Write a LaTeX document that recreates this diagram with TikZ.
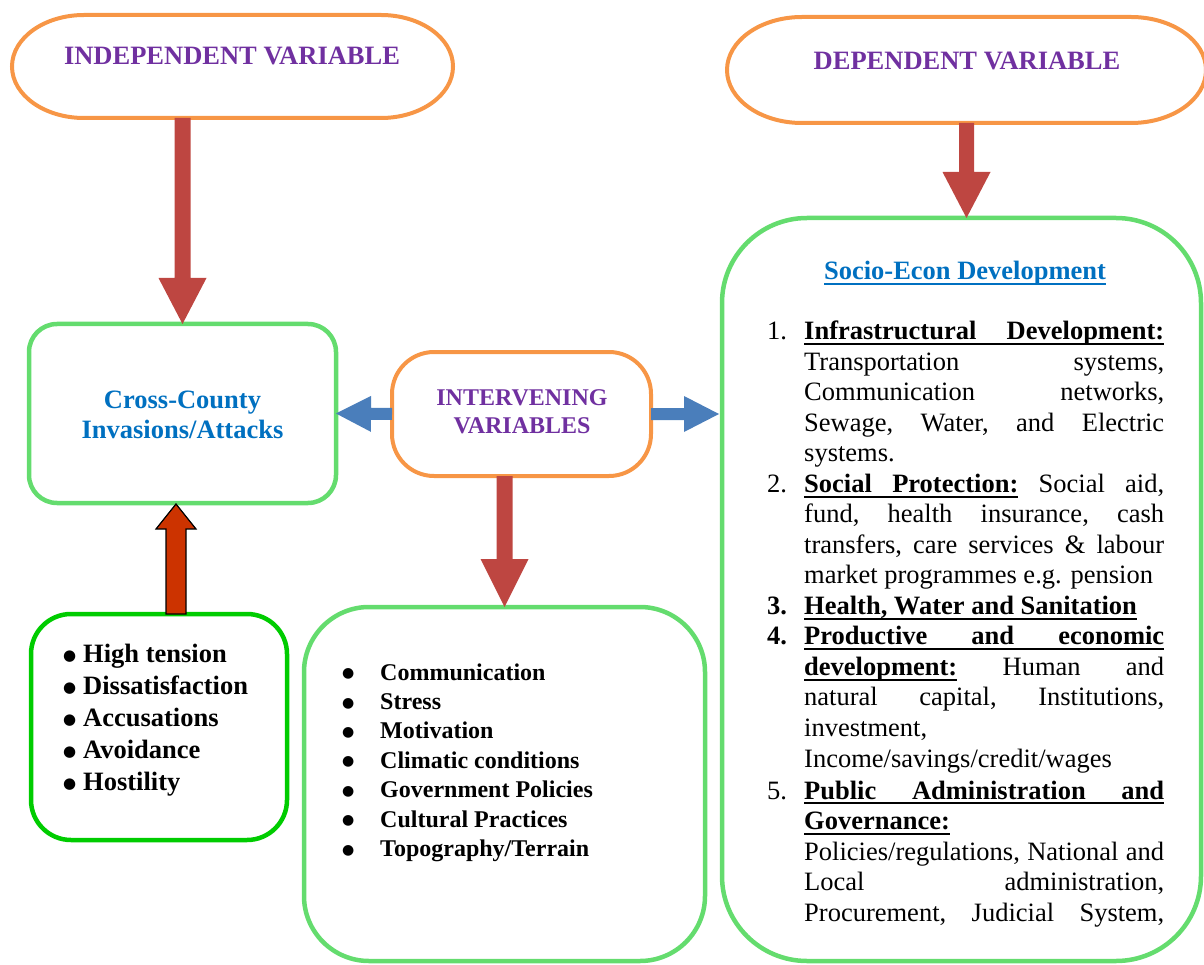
\documentclass[tikz,border=0pt]{standalone}
\usepackage{fontspec}
\setmainfont{Liberation Serif}
\newfontfamily\symf{DejaVu Sans}
\usetikzlibrary{calc}
\definecolor{orangeC}{HTML}{F79646}
\definecolor{purpleC}{HTML}{7030A0}
\definecolor{lgreen}{RGB}{100,220,110}
\definecolor{dgreen}{RGB}{0,204,0}
\definecolor{blueT}{HTML}{0070C0}
\definecolor{blueA}{RGB}{74,126,187}
\definecolor{redA}{RGB}{190,70,65}
\definecolor{upred}{HTML}{CC3300}
\newsavebox\ulbox
\newcommand\myul[1]{\sbox\ulbox{#1}\rlap{\rule[-5.2pt]{\wd\ulbox}{1.8pt}}\usebox\ulbox}
\newcommand\ulfill{\leaders\hrule height -3.4pt depth 5.2pt\hfill}
\newcommand\jl[1]{\hbox to 360pt{#1}}
\newcommand\nb[1]{\makebox[37pt][l]{#1}}
\newcommand\bulL{\makebox[20pt][l]{\raisebox{1.8pt}{\symf\fontsize{15}{15}\selectfont ●}}}
\newcommand\bulM{\makebox[38pt][l]{\raisebox{2.3pt}{\symf\fontsize{14}{14}\selectfont ●}}}
\newcommand\bodyfont{\fontsize{26.5}{30.5}\selectfont}
% stadium with elliptical ends: node name, rx, ry
\newcommand\ovalbox[3]{%
  \draw[ovl] ([xshift=#2]#1.north west) -- ([xshift=-#2]#1.north east)
    .. controls ([xshift=-#2+0.552*#2]#1.north east) and ([yshift=0.552*#3]#1.east) .. (#1.east)
    .. controls ([yshift=-0.552*#3]#1.east) and ([xshift=-0.448*#2]#1.south east) .. ([xshift=-#2]#1.south east)
    -- ([xshift=#2]#1.south west)
    .. controls ([xshift=0.448*#2]#1.south west) and ([yshift=-0.552*#3]#1.west) .. (#1.west)
    .. controls ([yshift=0.552*#3]#1.west) and ([xshift=0.448*#2]#1.north west) .. ([xshift=#2]#1.north west)
    -- cycle;}
% block arrow: style, A, B, shaft half width, head half width, head length
\newcommand\blockarrow[6]{%
  \path ($(#3)!#6!(#2)$) coordinate (bah);
  \filldraw[#1] ($(#2)!#4!90:(#3)$) -- ($(bah)!#4!90:(#3)$) -- ($(bah)!#5!90:(#3)$)
    -- (#3) -- ($(bah)!#5!-90:(#3)$) -- ($(bah)!#4!-90:(#3)$) -- ($(#2)!#4!-90:(#3)$) -- cycle;}
\begin{document}
\begin{tikzpicture}[x=1pt,y=-1pt,
  shp/.style={draw=none,inner sep=0,outer sep=0},
  ovl/.style={draw=orangeC,line width=4pt},
  obox/.style={draw=orangeC,line width=4pt,inner sep=0,outer sep=0},
  gbox/.style={draw=lgreen,line width=4.5pt,inner sep=0,outer sep=0},
  dbox/.style={draw=dgreen,line width=4.5pt,inner sep=0,outer sep=0},
  ttl/.style={anchor=base,inner sep=0,text=purpleC,font=\fontsize{26.5}{30}\selectfont\bfseries},
  redarrow/.style={fill=redA,draw=none},
  bluearrow/.style={fill=blueA,draw=none},
  uparrow/.style={fill=upred,draw=black,line width=1.2pt,line join=miter}]
\useasboundingbox (0,0) rectangle (1204,965);

% shapes
\node[shp,minimum width=441,minimum height=103] (indep) at (232.5,66.5) {};
\ovalbox{indep}{72}{51.5}
\node[shp,minimum width=479,minimum height=106] (dep) at (966.5,70) {};
\ovalbox{dep}{75}{53}
\node[gbox,rounded corners=28,minimum width=307,minimum height=179] (cross) at (182.5,413.5) {};
\node[obox,rounded corners=42,minimum width=259,minimum height=124] (inter) at (521.5,414) {};
\node[dbox,rounded corners=40,minimum width=256,minimum height=226] (lbox) at (159,727) {};
\node[gbox,rounded corners=65,minimum width=401,minimum height=354] (mid) at (504.5,784) {};
\node[gbox,rounded corners=85,minimum width=479,minimum height=743] (socio) at (961.5,589.5) {};

% titles
\node[ttl] (indepT) at (232,65) {INDEPENDENT VARIABLE};
\node[ttl] (depT) at (967,70) {DEPENDENT VARIABLE};
\node[anchor=base,inner sep=0,text=purpleC,font=\fontsize{24}{28}\selectfont\bfseries] (interT) at (522,405)
  {\begin{tabular}[t]{@{}c@{}}INTERVENING\\VARIABLES\end{tabular}};
\node[anchor=base,inner sep=0,text=blueT,font=\fontsize{26.5}{30}\selectfont\bfseries] (crossT) at (182.5,408)
  {\begin{tabular}[t]{@{}c@{}}Cross-County\\Invasions/Attacks\end{tabular}};
\node[anchor=base,inner sep=0,text=blueT,font=\fontsize{26.5}{30}\selectfont\bfseries] (socioT) at (965,280)
  {\myul{Socio-Econ Development}};

% left list
\node[anchor=base west,inner sep=0,font=\fontsize{26.5}{32}\selectfont\bfseries] (lList) at (63,662)
  {\begin{tabular}[t]{@{}l@{}l@{}}
  \bulL & High tension\\
  \bulL & Dissatisfaction\\
  \bulL & Accusations\\
  \bulL & Avoidance\\
  \bulL & Hostility
  \end{tabular}};

% middle list
\node[anchor=base west,inner sep=0,font=\fontsize{24}{29.4}\selectfont\bfseries] (mList) at (342,680)
  {\begin{tabular}[t]{@{}l@{}l@{}}
  \bulM & Communication\\
  \bulM & Stress\\
  \bulM & Motivation\\
  \bulM & Climatic conditions\\
  \bulM & Government Policies\\
  \bulM & Cultural Practices\\
  \bulM & Topography/Terrain
  \end{tabular}};

% right list
\node[anchor=base west,inner sep=0,font=\bodyfont] (sList) at (767,340)
  {\begin{tabular}[t]{@{}l@{}l@{}}
  \nb{1.} & \jl{\bfseries\myul{Infrastructural}\ulfill\myul{Development:}}\\
  & \jl{Transportation\hfill systems,}\\
  & \jl{Communication\hfill networks,}\\
  & \jl{Sewage,\hfill Water,\hfill and\hfill Electric}\\
  & systems.\\
  \nb{2.} & \jl{{\bfseries\myul{Social}\ulfill\myul{Protection:}}\hfill Social\hfill aid,}\\
  & \jl{fund,\hfill health\hfill insurance,\hfill cash}\\
  & \jl{transfers,\hfill care\hfill services\hfill \&\hfill labour}\\
  & market programmes e.g. pension\\
  \nb{\bfseries 3.} & \bfseries\myul{Health, Water and Sanitation}\\
  \nb{\bfseries 4.} & \jl{\bfseries\myul{Productive}\ulfill\myul{and}\ulfill\myul{economic}}\\
  & \jl{{\bfseries\myul{development:}}\hfill Human\hfill and}\\
  & \jl{natural\hfill capital,\hfill Institutions,}\\
  & investment,\\
  & Income/savings/credit/wages\\[1.5pt]
  \nb{5.} & \jl{\bfseries\myul{Public}\ulfill\myul{Administration}\ulfill\myul{and}}\\
  & \bfseries\myul{Governance:}\\
  & \jl{Policies/regulations,\hfill National\hfill and}\\
  & \jl{Local\hfill administration,}\\
  & \jl{Procurement,\hfill Judicial\hfill System,}
  \end{tabular}};

% arrows
\coordinate (a1) at (indep.south -| cross.north);
\blockarrow{redarrow}{a1}{cross.north}{8pt}{24pt}{46pt}
\blockarrow{redarrow}{dep.south}{dep.south |- socio.north}{7.5pt}{24pt}{46pt}
\coordinate (a3) at (inter.south -| mid.north);
\blockarrow{redarrow}{a3}{mid.north}{8pt}{24pt}{48pt}
\blockarrow{bluearrow}{inter.west}{cross.east}{6pt}{18pt}{35pt}
\coordinate (a5) at (inter.east |- inter.east);
\coordinate (b5) at ([xshift=-3pt]socio.west |- inter.east);
\blockarrow{bluearrow}{a5}{b5}{6pt}{18pt}{35pt}
\coordinate (a6) at ([xshift=17pt]lbox.north);
\coordinate (b6) at ([yshift=-1pt]a6 |- cross.south);
\blockarrow{uparrow}{a6}{b6}{10pt}{20pt}{25pt}
\end{tikzpicture}
\end{document}
